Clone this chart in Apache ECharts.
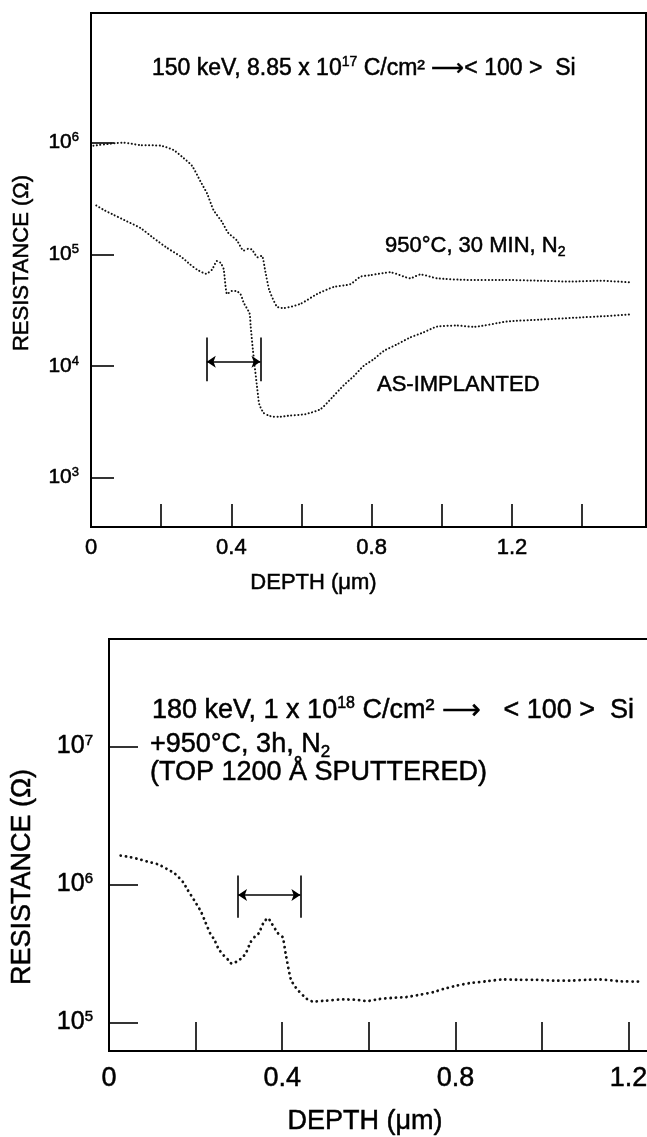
<!DOCTYPE html>
<html>
<head>
<meta charset="utf-8">
<script src="https://cdn.jsdelivr.net/npm/echarts@6/dist/echarts.min.js"></script>
<style>
  html, body { margin: 0; padding: 0; background: #fff; }
  #chart { width: 647px; height: 1137px; }
</style>
</head>
<body>
<div id="chart"></div>
<script>
// --- top panel: 150 keV, 8.85e17 C/cm2 ---
const topAnnealDepth = [0.007, 0.069, 0.092, 0.141, 0.198, 0.235, 0.259, 0.288, 0.312, 0.331, 0.349, 0.373, 0.391, 0.416, 0.435, 0.448, 0.459, 0.475, 0.487, 0.497, 0.508, 0.530, 0.549, 0.597, 0.644, 0.692, 0.739, 0.768, 0.796, 0.853, 0.910, 0.939, 0.986, 1.072, 1.167, 1.281, 1.366, 1.452, 1.538];
const topAnnealRes = [9.4e5, 9.9e5, 1.0e6, 9.5e5, 9.4e5, 8.6e5, 7.5e5, 6.2e5, 4.5e5, 3.5e5, 2.5e5, 1.96e5, 1.56e5, 1.33e5, 1.08e5, 1.12e5, 1.1e5, 9.4e4, 9.7e4, 7.0e4, 4.8e4, 3.4e4, 3.3e4, 3.6e4, 4.4e4, 5.1e4, 5.4e4, 6.3e4, 6.5e4, 6.9e4, 6.1e4, 6.6e4, 6.1e4, 5.9e4, 5.9e4, 5.8e4, 5.7e4, 5.8e4, 5.6e4];

const topImplDepth = [0.015, 0.036, 0.064, 0.103, 0.141, 0.178, 0.217, 0.255, 0.283, 0.302, 0.328, 0.345, 0.359, 0.369, 0.378, 0.388, 0.402, 0.413, 0.426, 0.435, 0.452, 0.455, 0.462, 0.476, 0.480, 0.492, 0.506, 0.521, 0.535, 0.568, 0.611, 0.654, 0.687, 0.720, 0.749, 0.777, 0.806, 0.834, 0.872, 0.910, 0.948, 0.986, 1.043, 1.090, 1.186, 1.281, 1.375, 1.471, 1.542];
const topImplRes = [2.74e5, 2.5e5, 2.26e5, 1.97e5, 1.72e5, 1.4e5, 1.14e5, 9.6e4, 8.1e4, 7.3e4, 6.7e4, 7.3e4, 8.7e4, 8.4e4, 7.4e4, 4.4e4, 4.7e4, 4.7e4, 4.4e4, 3.7e4, 2.95e4, 2.3e4, 1.35e4, 5.5e3, 4.5e3, 3.8e3, 3.6e3, 3.5e3, 3.5e3, 3.6e3, 3.7e3, 4.1e3, 5.2e3, 6.7e3, 8.1e3, 1.0e4, 1.15e4, 1.36e4, 1.56e4, 1.8e4, 2.0e4, 2.25e4, 2.3e4, 2.24e4, 2.5e4, 2.6e4, 2.7e4, 2.8e4, 2.9e4];

const topXTicks = [0.2, 0.4, 0.6, 0.8, 1.0, 1.2, 1.4];
const topXLabels = [0, 0.4, 0.8, 1.2];
const topYTicks = [1e3, 1e4, 1e5, 1e6];
const topBracketDepth = [0.330, 0.483];
const topBracketRes = [7.3e3, 1.8e4, 1.09e4]; // bar bottom, bar top, arrow level

// --- bottom panel: 180 keV, 1e18 C/cm2 + 950C 3h ---
const botDepth = [0.027, 0.048, 0.071, 0.094, 0.113, 0.133, 0.152, 0.171, 0.181, 0.200, 0.213, 0.223, 0.234, 0.243, 0.253, 0.265, 0.275, 0.284, 0.296, 0.307, 0.316, 0.327, 0.337, 0.346, 0.357, 0.367, 0.376, 0.390, 0.401, 0.408, 0.420, 0.431, 0.439, 0.451, 0.460, 0.471, 0.502, 0.541, 0.572, 0.595, 0.625, 0.656, 0.687, 0.718, 0.749, 0.772, 0.803, 0.833, 0.872, 0.910, 0.949, 0.988, 1.026, 1.064, 1.103, 1.134, 1.180, 1.222];
const botRes = [1.62e6, 1.58e6, 1.52e6, 1.45e6, 1.40e6, 1.30e6, 1.20e6, 1.04e6, 9.2e5, 7.4e5, 6.3e5, 5.3e5, 4.4e5, 4.0e5, 3.42e5, 3.06e5, 2.85e5, 2.66e5, 2.78e5, 2.94e5, 3.18e5, 3.82e5, 4.2e5, 4.44e5, 5.3e5, 5.7e5, 5.2e5, 4.44e5, 4.15e5, 3.15e5, 2.05e5, 1.8e5, 1.68e5, 1.54e5, 1.46e5, 1.42e5, 1.44e5, 1.47e5, 1.46e5, 1.43e5, 1.48e5, 1.51e5, 1.53e5, 1.59e5, 1.66e5, 1.75e5, 1.85e5, 1.93e5, 1.99e5, 2.05e5, 2.04e5, 2.04e5, 2.01e5, 2.01e5, 2.04e5, 2.05e5, 1.99e5, 1.98e5];

const botXTicks = [0.2, 0.4, 0.6, 0.8, 1.0, 1.2];
const botXLabels = [0, 0.4, 0.8, 1.2];
const botYTicks = [1e5, 1e6, 1e7];
const botBracketDepth = [0.298, 0.442];
const botBracketRes = [5.74e5, 1.16e6, 8.4e5];

const FONT = "'Liberation Sans', Arial, Helvetica, sans-serif";
const INK = '#000';
const HEAVY = { textBorderColor: INK, textBorderWidth: 0.5 }; // scan-like weight

const zip = (xs, ys) => xs.map((x, i) => [x, ys[i]]);
const expLabel = v => '{b|10}{s|' + Math.round(Math.log10(v)) + '}';

function bracket(dx, ry) {
  return [
    [{ coord: [dx[0], ry[0]] }, { coord: [dx[0], ry[1]] }],
    [{ coord: [dx[1], ry[0]] }, { coord: [dx[1], ry[1]] }],
    [{ coord: [dx[0], ry[2]], symbol: 'arrow' }, { coord: [dx[1], ry[2]], symbol: 'arrow' }]
  ];
}

function xAxisFor(grid, max, ticks, labels, fs, tickLen, margin, nameGap, namePad) {
  return {
    gridIndex: grid, type: 'value', min: 0, max: max,
    axisLine: { onZero: false, lineStyle: { color: INK, width: 2 } },
    axisTick: { inside: true, length: tickLen, customValues: ticks, lineStyle: { color: INK, width: 1.6 } },
    axisLabel: Object.assign({ customValues: labels, margin: margin, fontSize: fs, color: INK, fontFamily: FONT, formatter: v => String(v) }, HEAVY),
    splitLine: { show: false },
    name: 'DEPTH (μm)', nameLocation: 'middle', nameGap: nameGap,
    nameTextStyle: Object.assign({ fontSize: fs, color: INK, fontFamily: FONT, padding: namePad }, HEAVY)
  };
}

function yAxisFor(grid, min, max, ticks, fs, sfs, tickLen, margin, nameFs, nameGap, namePad) {
  return {
    gridIndex: grid, type: 'log', logBase: 10, min: min, max: max,
    axisLine: { lineStyle: { color: INK, width: 2 } },
    axisTick: { inside: true, length: tickLen, customValues: ticks, lineStyle: { color: INK, width: 1.6 } },
    axisLabel: {
      customValues: ticks, formatter: expLabel, margin: margin,
      rich: {
        b: Object.assign({ fontSize: fs, lineHeight: fs + 2, color: INK, fontFamily: FONT }, HEAVY),
        s: Object.assign({ fontSize: sfs, lineHeight: sfs, verticalAlign: 'top', color: INK, fontFamily: FONT }, HEAVY)
      }
    },
    splitLine: { show: false }, minorTick: { show: false },
    name: 'RESISTANCE (Ω)', nameLocation: 'middle', nameGap: nameGap,
    nameTextStyle: Object.assign({ fontSize: nameFs, color: INK, fontFamily: FONT, padding: namePad }, HEAVY)
  };
}

function curve(xi, data, width, dash, marks) {
  return {
    type: 'line', xAxisIndex: xi, yAxisIndex: xi, data: data,
    symbol: 'none', smooth: 0.2, silent: true,
    lineStyle: { color: '#111', width: width, type: dash, cap: 'round' },
    markLine: marks ? {
      silent: true, symbol: ['none', 'none'], symbolSize: 9,
      label: { show: false },
      lineStyle: { color: INK, width: 1.6, type: 'solid' },
      data: marks
    } : undefined
  };
}

function label(x, y, text, fs, sfs) {
  const tok = (size, extra) => Object.assign({ fontSize: size, fill: INK, fontFamily: FONT, stroke: INK, lineWidth: 0.5 }, extra);
  return {
    type: 'text', x: x, y: y, silent: true,
    style: {
      text: text, verticalAlign: 'middle', align: 'left',
      rich: {
        t: tok(fs, { lineHeight: fs + 4 }),
        sup: tok(sfs, { lineHeight: sfs, verticalAlign: 'top' }),
        sub: tok(sfs, { lineHeight: sfs, verticalAlign: 'bottom' })
      }
    }
  };
}

const chart = echarts.init(document.getElementById('chart'));

chart.setOption({
  animation: false,
  backgroundColor: '#fff',
  grid: [
    { left: 91, top: 13, right: 1, bottom: 610, show: true, borderColor: INK, borderWidth: 2, outerBoundsMode: 'none' },
    { left: 109, top: 639, right: -5, bottom: 86, show: true, borderColor: INK, borderWidth: 2, outerBoundsMode: 'none' }
  ],
  xAxis: [
    xAxisFor(0, 1.582, topXTicks, topXLabels, 22, 23, 10, 45, [0, 110, 0, 0]),
    xAxisFor(1, 1.254, botXTicks, botXLabels, 27, 29, 14, 57, [0, 31, 0, 0])
  ],
  yAxis: [
    yAxisFor(0, 361, 1.45e7, topYTicks, 21, 13, 23, 12, 22, 58, [0, 0, 0, 14]),
    yAxisFor(1, 6.22e4, 6.0e7, botYTicks, 25, 15, 29, 16, 27, 73, [0, 64, 0, 0])
  ],
  series: [
    curve(0, zip(topAnnealDepth, topAnnealRes), 2, [0.1, 3.4], bracket(topBracketDepth, topBracketRes)),
    curve(0, zip(topImplDepth, topImplRes), 2, [0.1, 3.4]),
    curve(1, zip(botDepth, botRes), 2.8, [0.1, 5.2], bracket(botBracketDepth, botBracketRes))
  ],
  graphic: [
    label(152, 69, '{t|150 keV, 8.85 x 10}{sup|17}{t| C/cm² ⟶< 100 >  Si}', 23, 14),
    label(385, 246, '{t|950°C, 30 MIN, N}{sub|2}', 22, 14),
    label(377, 385, '{t|AS-IMPLANTED}', 22, 13),
    label(152, 711, '{t|180 keV, 1 x 10}{sup|18}{t| C/cm² ⟶   < 100 >  Si}', 27, 16),
    label(150, 745, '{t|+950°C, 3h, N}{sub|2}', 27, 17),
    label(150, 773, '{t|(TOP 1200 Å SPUTTERED)}', 27, 16)
  ]
});
</script>
</body>
</html>
